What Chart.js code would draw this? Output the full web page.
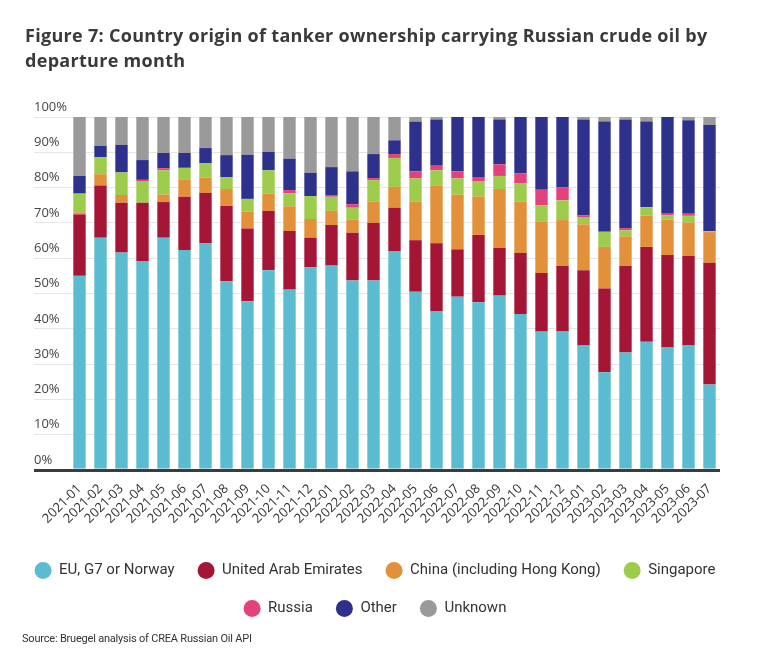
<!DOCTYPE html>
<html>
<head>
<meta charset="utf-8">
<script src="https://cdn.jsdelivr.net/npm/chart.js@4/dist/chart.umd.min.js"></script>
<style>
  html, body { margin: 0; padding: 0; background: #fff; }
  #wrap { position: relative; width: 782px; height: 659px; }
  #title {
    position: absolute; left: 25px; top: 23px; width: 740px;
    font: bold 18px "Open Sans", sans-serif; letter-spacing: 0.3px;
    line-height: 25px; color: #3a3a3a;
  }
  #source {
    position: absolute; left: 22px; top: 632px;
    font: 11px Roboto, sans-serif; color: #333; letter-spacing: -0.2px;
  }
  canvas { position: absolute; left: 0; top: 0; }
</style>
</head>
<body>
<div id="wrap">
  <canvas id="chart" width="782" height="659"></canvas>
  <div id="title">Figure 7: Country origin of tanker ownership carrying Russian crude oil by departure month</div>
  <div id="source">Source: Bruegel analysis of CREA Russian Oil API</div>
</div>
<script>
// departure months
const months = [
  "2021-01","2021-02","2021-03","2021-04","2021-05","2021-06","2021-07","2021-08","2021-09","2021-10","2021-11","2021-12",
  "2022-01","2022-02","2022-03","2022-04","2022-05","2022-06","2022-07","2022-08","2022-09","2022-10","2022-11","2022-12",
  "2023-01","2023-02","2023-03","2023-04","2023-05","2023-06","2023-07"
];

// share of tanker ownership, %
const euG7Norway = [55.0,65.8,61.6,59.2,65.8,62.3,64.2,53.5,47.8,56.6,51.1,57.4, 57.9,53.7,53.7,61.9,50.5,44.9,49.1,47.5,49.4,44.2,39.2,39.2, 35.3,27.7,33.3,36.3,34.7,35.3,24.2];
const uae        = [17.4,14.8,14.1,16.5,10.1,15.1,14.3,21.3,20.6,16.8,16.6, 8.4, 11.5,13.5,16.3,12.4,14.6,19.3,13.4,19.1,13.5,17.3,16.6,18.6, 21.3,23.7,24.5,26.9,26.2,25.3,34.5];
const china      = [ 0.6, 3.2, 2.2, 0.0, 2.1, 4.8, 4.3, 4.8, 4.8, 4.9, 7.0, 5.3,  4.0, 3.8, 6.1, 5.9,11.0,16.3,15.5,10.9,16.7,14.6,14.5,13.0, 13.0,11.8, 8.4, 8.9,10.0, 9.5, 8.7];
const singapore  = [ 5.3, 4.8, 6.4, 6.0, 6.9, 3.4, 4.1, 3.3, 3.6, 6.6, 3.7, 6.5,  4.0, 3.3, 6.0, 8.2, 6.5, 4.4, 4.6, 4.2, 3.7, 5.2, 4.7, 5.6,  1.9, 4.3, 1.7, 2.3, 1.3, 1.9, 0.2];
const russia     = [ 0.0, 0.0, 0.0, 0.5, 0.6, 0.0, 0.0, 0.0, 0.0, 0.0, 0.9, 0.0,  0.5, 1.0, 0.6, 1.1, 2.0, 1.3, 2.0, 1.1, 3.3, 2.7, 4.4, 3.6,  0.6, 0.0, 0.6, 0.0, 0.6, 0.6, 0.0];
const other      = [ 5.0, 3.2, 7.8, 5.6, 4.3, 4.2, 4.3, 6.3,12.5, 5.2, 8.9, 6.6,  7.9, 9.3, 6.8, 3.9,14.1,13.1,15.4,17.2,12.7,16.0,20.6,20.0, 27.2,31.2,30.8,24.3,27.2,26.5,30.1];
const unknown    = [16.7, 8.2, 7.9,12.2,10.2,10.2, 8.8,10.8,10.7, 9.9,11.8,15.8, 14.2,15.4,10.5, 6.6, 1.3, 0.7, 0.0, 0.0, 0.7, 0.0, 0.0, 0.0,  0.7, 1.3, 0.7, 1.3, 0.0, 0.9, 2.3];

const yTicks = [0,10,20,30,40,50,60,70,80,90,100];

const C = {
  eu: "#5bbbd0", uae: "#a51536", china: "#e3903a", sing: "#9dcb4c",
  russia: "#e2417c", other: "#2e318b", unknown: "#9a9a9a",
  grid: "#e6e6e6", axis: "#3c3c3c", text: "#333"
};

const series = [
  { label: "EU, G7 or Norway", data: euG7Norway, color: C.eu },
  { label: "United Arab Emirates", data: uae, color: C.uae },
  { label: "China (including Hong Kong)", data: china, color: C.china },
  { label: "Singapore", data: singapore, color: C.sing },
  { label: "Russia", data: russia, color: C.russia },
  { label: "Other", data: other, color: C.other },
  { label: "Unknown", data: unknown, color: C.unknown },
];

// empty spacer axes so the legend keeps the full width while the plot is inset
const spacer = (pos, w, weight) => ({
  position: pos, weight, display: true,
  afterFit: s => { s.width = w; },
  grid: { display: false }, border: { display: false }, ticks: { display: false }
});

new Chart(document.getElementById("chart"), {
  type: "bar",
  data: {
    labels: months,
    datasets: series.map(s => ({
      label: s.label, data: s.data,
      backgroundColor: s.color, borderWidth: 0,
      categoryPercentage: 1, barPercentage: 0.59,
    }))
  },
  options: {
    responsive: false, animation: false,
    layout: { padding: { top: 117, left: 0, right: 32, bottom: 33 } },
    plugins: {
      tooltip: { enabled: false },
      legend: {
        position: "bottom",
        labels: {
          usePointStyle: true, pointStyle: "circle",
          boxHeight: 12, pointStyleWidth: 17,
          padding: 23, color: C.text,
          font: { family: "Roboto, sans-serif", size: 15 }
        }
      }
    },
    scales: {
      x: {
        stacked: true,
        afterFit: s => { s.height = 70; },
        grid: { display: false },
        border: { display: false },
        ticks: {
          minRotation: 45, maxRotation: 45, autoSkip: false, padding: 3,
          color: C.text, font: { family: "'Open Sans', sans-serif", size: 13 }
        }
      },
      y: {
        stacked: true, min: 0, max: 100,
        afterFit: s => { s.width = 35; },
        afterBuildTicks: s => { s.ticks = yTicks.map(v => ({ value: v })); },
        border: { display: false },
        grid: {
          drawTicks: true, tickLength: 35,
          color: c => (c.tick && c.tick.value === 0) ? C.axis : C.grid,
          lineWidth: c => (c.tick && c.tick.value === 0) ? 3 : 1,
        },
        ticks: {
          crossAlign: "far", labelOffset: -10,
          color: "#444", font: { family: "'Open Sans', sans-serif", size: 13 },
          callback: v => v + "%"
        }
      },
      padL: spacer("left", 34, 1),
      padR: spacer("right", 30, 0)
    }
  }
});
</script>
</body>
</html>
